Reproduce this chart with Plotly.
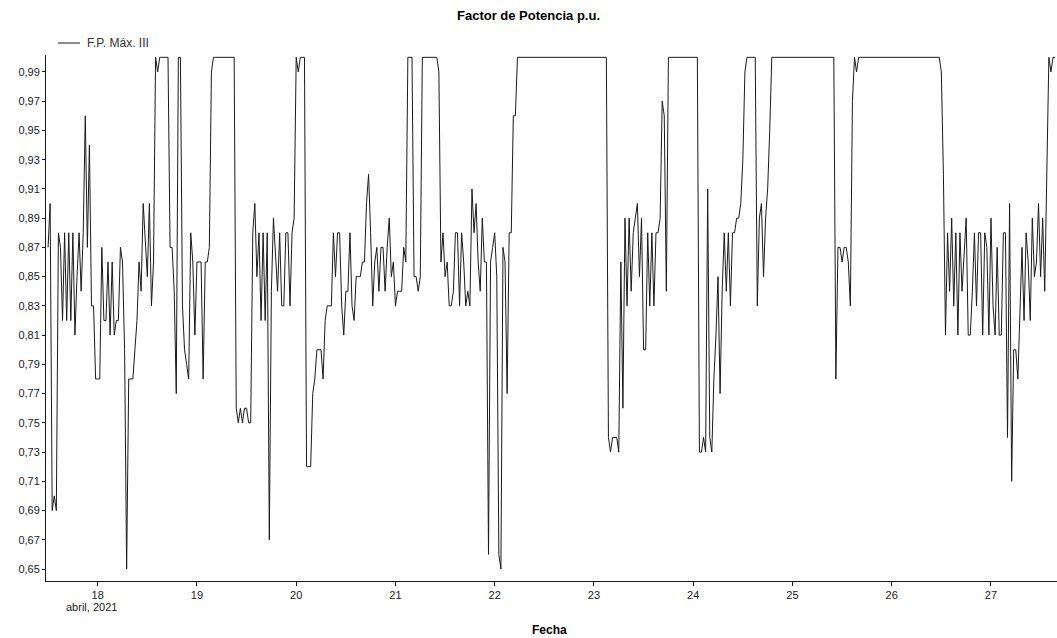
import pandas as pd
import plotly.graph_objects as go

# Factor de potencia máximo (fase III), registros cada 30 min desde 17/04/2021 12:00
fp_17 = [0.87, 0.90, 0.69, 0.70, 0.69, 0.88, 0.87, 0.82, 0.88, 0.82, 0.88, 0.82,
         0.88, 0.81, 0.85, 0.88, 0.84, 0.88, 0.96, 0.87, 0.94, 0.83, 0.83, 0.78]
fp_18 = [0.78, 0.78, 0.87, 0.82, 0.82, 0.86, 0.81, 0.86, 0.81, 0.82,
         0.82, 0.87, 0.86, 0.80, 0.65, 0.78, 0.78, 0.78, 0.80, 0.82,
         0.86, 0.84, 0.90, 0.87, 0.85, 0.90, 0.83, 0.86, 1.00, 0.99,
         1.00, 1.00, 1.00, 1.00, 1.00, 0.87, 0.87, 0.84, 0.77, 1.00,
         1.00, 0.83, 0.80, 0.79, 0.78, 0.88, 0.86, 0.81]
fp_19 = [0.86, 0.86, 0.86, 0.78, 0.86, 0.86, 0.87, 0.99, 1.00, 1.00,
         1.00, 1.00, 1.00, 1.00, 1.00, 1.00, 1.00, 1.00, 1.00, 0.76,
         0.75, 0.76, 0.75, 0.76, 0.76, 0.75, 0.75, 0.88, 0.90, 0.85,
         0.88, 0.82, 0.88, 0.82, 0.88, 0.67, 0.84, 0.89, 0.86, 0.84,
         0.88, 0.83, 0.83, 0.88, 0.88, 0.83, 0.88, 0.89]
fp_20 = [1.00, 0.99, 1.00, 1.00, 1.00, 0.72, 0.72, 0.72, 0.77, 0.78,
         0.80, 0.80, 0.80, 0.78, 0.82, 0.83, 0.83, 0.83, 0.88, 0.85,
         0.88, 0.88, 0.83, 0.81, 0.84, 0.84, 0.88, 0.83, 0.82, 0.85,
         0.85, 0.85, 0.86, 0.86, 0.90, 0.92, 0.88, 0.83, 0.86, 0.87,
         0.84, 0.87, 0.87, 0.84, 0.87, 0.89, 0.85, 0.86]
fp_21 = [0.83, 0.84, 0.84, 0.84, 0.87, 0.86, 1.00, 1.00, 1.00, 0.85,
         0.85, 0.84, 0.85, 1.00, 1.00, 1.00, 1.00, 1.00, 1.00, 1.00,
         1.00, 0.99, 0.86, 0.88, 0.85, 0.86, 0.83, 0.83, 0.84, 0.88,
         0.88, 0.83, 0.88, 0.86, 0.83, 0.84, 0.83, 0.91, 0.88, 0.90,
         0.86, 0.84, 0.89, 0.86, 0.86, 0.66, 0.86, 0.87]
fp_22 = [0.88, 0.85, 0.66, 0.65, 0.87, 0.86, 0.77, 0.88, 0.88, 0.96,
         0.96, 1.00, 1.00, 1.00, 1.00, 1.00, 1.00, 1.00, 1.00, 1.00,
         1.00, 1.00, 1.00, 1.00, 1.00, 1.00, 1.00, 1.00, 1.00, 1.00,
         1.00, 1.00, 1.00, 1.00, 1.00, 1.00, 1.00, 1.00, 1.00, 1.00,
         1.00, 1.00, 1.00, 1.00, 1.00, 1.00, 1.00, 1.00]
fp_23 = [1.00, 1.00, 1.00, 1.00, 1.00, 1.00, 1.00,
         0.74, 0.73, 0.74, 0.74, 0.74, 0.73, 0.86, 0.76, 0.89, 0.83,
         0.89, 0.84, 0.88, 0.89, 0.90, 0.85, 0.89, 0.80, 0.80, 0.88,
         0.83, 0.88, 0.83, 0.88, 0.88, 0.89, 0.97, 0.96, 0.84, 1.00,
         1.00, 1.00, 1.00, 1.00, 1.00, 1.00, 1.00, 1.00, 1.00, 1.00, 1.00]
fp_24 = [1.00, 1.00, 1.00,
         0.73, 0.73, 0.74, 0.73, 0.91, 0.74, 0.73, 0.78, 0.81, 0.85,
         0.77, 0.84, 0.88, 0.84, 0.88, 0.83, 0.88, 0.88, 0.89, 0.89,
         0.90, 0.93, 0.99, 1.00, 1.00, 1.00, 1.00, 1.00, 0.83, 0.89,
         0.90, 0.85, 0.89, 0.91, 0.95, 1.00, 1.00, 1.00, 1.00, 1.00,
         1.00, 1.00, 1.00, 1.00, 1.00]
fp_25 = [1.00, 1.00, 1.00, 1.00, 1.00, 1.00, 1.00, 1.00, 1.00, 1.00,
         1.00, 1.00, 1.00, 1.00, 1.00, 1.00, 1.00, 1.00, 1.00, 1.00, 1.00,
         0.78, 0.87, 0.87, 0.86, 0.87, 0.87, 0.86, 0.83, 0.97, 1.00,
         0.99, 1.00, 1.00, 1.00, 1.00, 1.00, 1.00, 1.00, 1.00,
         1.00, 1.00, 1.00, 1.00, 1.00, 1.00, 1.00, 1.00]
fp_26 = [1.00, 1.00, 1.00, 1.00, 1.00, 1.00, 1.00, 1.00, 1.00, 1.00, 1.00, 1.00,
         1.00, 1.00, 1.00, 1.00, 1.00, 1.00, 1.00, 1.00, 1.00, 1.00, 1.00, 1.00,
         0.99, 0.92, 0.81, 0.88, 0.84, 0.89, 0.83, 0.88, 0.81, 0.88,
         0.84, 0.87, 0.89, 0.81, 0.81, 0.84, 0.88, 0.83, 0.88, 0.88,
         0.81, 0.88, 0.87, 0.81]
fp_27 = [0.89, 0.83, 0.81, 0.87, 0.81, 0.81, 0.88, 0.88, 0.74, 0.90,
         0.71, 0.80, 0.80, 0.78, 0.83, 0.87, 0.82, 0.88, 0.86, 0.82,
         0.89, 0.85, 0.86, 0.90, 0.85, 0.89, 0.84, 0.91, 1.00, 0.99, 1.00, 1.00]

day_numbers = ["18", "19", "20", "21", "22", "23", "24", "25", "26", "27"]
y_ticks = [0.65, 0.67, 0.69, 0.71, 0.73, 0.75, 0.77, 0.79, 0.81,
           0.83, 0.85, 0.87, 0.89, 0.91, 0.93, 0.95, 0.97, 0.99]

values = fp_17 + fp_18 + fp_19 + fp_20 + fp_21 + fp_22 + fp_23 + fp_24 + fp_25 + fp_26 + fp_27
times = pd.date_range("2021-04-17 12:00", periods=len(values), freq="30min")
day_ticks = [pd.Timestamp(f"2021-04-{d} 00:00") for d in day_numbers]

W, H = 1057, 638
L, R, T, B = 46, 0, 55, 57
pw, ph = W - L - R, H - T - B

FONT = "Liberation Sans, Arial, sans-serif"
INK = "#1a1a1a"

fig = go.Figure(
    go.Scatter(x=times, y=values, mode="lines",
               line=dict(color=INK, width=1), name="F.P. Máx. III",
               showlegend=False)
)

x_start = pd.Timestamp("2021-04-17 11:30")
x_end = pd.Timestamp("2021-04-27 15:58")

fig.update_layout(
    width=W, height=H,
    margin=dict(l=L, r=R, t=T, b=B, pad=0),
    paper_bgcolor="white", plot_bgcolor="white",
    separators=",.",
    font=dict(family=FONT, size=11, color=INK),
    title=dict(text="<b>Factor de Potencia p.u.</b>", x=0.5, xref="container",
               xanchor="center", y=1 - 15 / H, yref="container", yanchor="middle",
               font=dict(family=FONT, size=13, color="#000")),
    xaxis=dict(type="date", range=[x_start, x_end], tickvals=day_ticks,
               ticktext=day_numbers, ticks="outside", ticklen=4, tickcolor=INK,
               showline=True, linecolor=INK, linewidth=1, showgrid=False,
               zeroline=False, tickfont=dict(size=11, color=INK)),
    yaxis=dict(range=[0.6418, 1.0016], tickvals=y_ticks, tickformat=".2f",
               ticks="outside", ticklen=3, tickcolor=INK, showline=True,
               linecolor=INK, linewidth=1, showgrid=False, zeroline=False,
               tickfont=dict(size=11, color=INK)),
)

# legend sample line and label
fig.add_shape(type="line", xref="paper", yref="paper",
              x0=(58 - L) / pw, x1=(80 - L) / pw,
              y0=(H - B - 43) / ph, y1=(H - B - 43) / ph,
              line=dict(color=INK, width=1))
fig.add_annotation(text="F.P. Máx. III", xref="paper", yref="paper",
                   x=(85 - L) / pw, y=(H - B - 43) / ph, xanchor="left",
                   yanchor="middle", showarrow=False,
                   font=dict(family=FONT, size=12, color="#333"))

# month / year under the first day tick
fig.add_annotation(text="abril, 2021", xref="x", yref="paper",
                   x=day_ticks[0], y=-26 / ph, xanchor="center", yanchor="middle",
                   xshift=-6, showarrow=False,
                   font=dict(family=FONT, size=11, color=INK))

# axis title
fig.add_annotation(text="<b>Fecha</b>", xref="paper", yref="paper",
                   x=(549 - L) / pw, y=-49 / ph, xanchor="center", yanchor="middle",
                   showarrow=False, font=dict(family=FONT, size=12, color="#000"))

fig.write_html("out.html")
